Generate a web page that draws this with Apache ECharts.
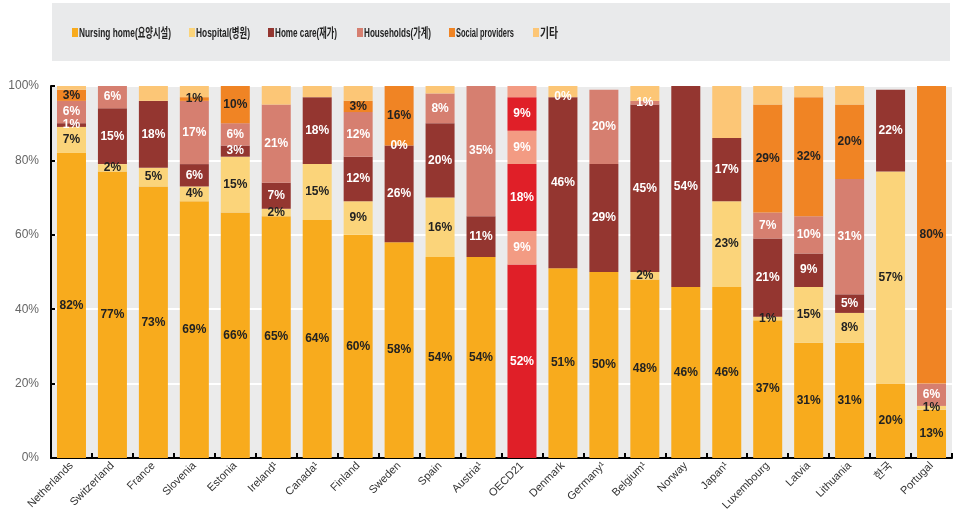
<!DOCTYPE html>
<html>
<head>
<meta charset="utf-8">
<script src="https://cdn.jsdelivr.net/npm/echarts@6/dist/echarts.min.js"></script>
<style>
  html, body { margin: 0; padding: 0; background: #fff; }
  #chart { width: 955px; height: 520px; }
</style>
</head>
<body>
<div id="chart"></div>
<script>
// Long-term care spending by provider, share of total (%)
const categories = ['Netherlands', 'Switzerland', 'France', 'Slovenia', 'Estonia', 'Ireland¹', 'Canada¹', 'Finland', 'Sweden', 'Spain', 'Austria¹', 'OECD21', 'Denmark', 'Germany¹', 'Belgium¹', 'Norway', 'Japan¹', 'Luxembourg', 'Latvia', 'Lithuania', '한국', 'Portugal'];

const nursingHome = [82, 77, 73, 69, 66, 65, 64, 60, 58, 54, 54, 52, 51, 50, 48, 46, 46, 37, 31, 31, 20, 13];
const hospital    = [7, 2, 5, 4, 15, 2, 15, 9, null, 16, null, 9, null, null, 2, null, 23, 1, 15, 8, 57, 1];
const homeCare    = [1, 15, 18, 6, 3, 7, 18, 12, 26, 20, 11, 18, 46, 29, 45, 54, 17, 21, 9, 5, 22, null];
const households  = [6, 6, null, 17, 6, 21, null, 12, 0, 8, 35, 9, 0, 20, 1, null, null, 7, 10, 31, null, 6];
const social      = [3, null, null, 1, 10, null, null, 3, 16, null, null, 9, null, null, null, null, null, 29, 32, 20, null, 80];
const other       = [1, 0, 4, 3, 0, 5, 3, 4, 0, 2, 0, 3, 3, 0, 4, 0, 14, 5, 3, 5, 0, 0];

const seriesNames = ['Nursing home(요양시설)', 'Hospital(병원)', 'Home care(재가)', 'Households(가계)', 'Social providers', '기타'];
const yTicks = [0, 20, 40, 60, 80, 100];

const colors = ['#f8ab1d', '#fbd47a', '#943630', '#d67f70', '#f08424', '#fcc676'];
const labelColors = ['#222', '#222', '#fff', '#fff', '#222', '#222'];
const oecdColors = ['#e01f28', '#f39b83', '#e01f28', '#f39b83', '#e01f28', '#f39b83'];
const OECD = categories.indexOf('OECD21');

const FONT = "'Liberation Sans', Arial, 'Noto Sans CJK KR', sans-serif";

function buildSeries(name, values, idx, labelled) {
  return {
    name: name,
    type: 'bar',
    stack: 'total',
    barWidth: 29,
    data: values.map((v, i) => {
      if (i === OECD) {
        return { value: v, itemStyle: { color: oecdColors[idx] }, label: { color: '#fff' } };
      }
      return v;
    }),
    itemStyle: { color: colors[idx] },
    label: {
      show: labelled,
      position: 'inside',
      formatter: p => (p.value === null || p.value === undefined || p.value === '-') ? '' : p.value + '%',
      color: labelColors[idx],
      fontFamily: FONT,
      fontWeight: 'bold',
      fontSize: 12
    },
    emphasis: { disabled: true }
  };
}

const values = [nursingHome, hospital, homeCare, households, social, other];
const series = values.map((v, i) => buildSeries(seriesNames[i], v, i, i < 5));

// Legend strip: swatch + condensed bold label for each series
const legendX = [72, 189, 268, 357, 449, 533];
const legendW = [92, 54, 62, 67, 58, 18];
const legendFont = "bold 13px 'Liberation Sans', Arial, 'Noto Sans CJK KR', sans-serif";
const measureCtx = document.createElement('canvas').getContext('2d');
measureCtx.font = legendFont;
const legendGraphics = [];
seriesNames.forEach((n, i) => {
  legendGraphics.push({
    type: 'rect',
    x: legendX[i], y: 28,
    shape: { width: 6, height: 9 },
    style: { fill: colors[i] }
  });
  const w = measureCtx.measureText(n).width;
  legendGraphics.push({
    type: 'text',
    x: legendX[i] + 7, y: 33,
    scaleX: legendW[i] / w,
    style: {
      text: n,
      font: legendFont,
      fill: '#222',
      verticalAlign: 'middle',
      align: 'left'
    }
  });
});

const chart = echarts.init(document.getElementById('chart'), null, { renderer: 'canvas' });
chart.setOption({
  animation: false,
  graphic: [{
    type: 'rect',
    left: 52, top: 3,
    shape: { width: 898, height: 58 },
    style: { fill: '#e9eaeb' },
    z: -10
  }].concat(legendGraphics),
  grid: {
    left: 51, right: 3, top: 86, bottom: 62,
    show: true,
    backgroundColor: '#ebebeb',
    borderWidth: 0
  },
  xAxis: {
    type: 'category',
    data: categories,
    axisLine: { lineStyle: { color: '#000', width: 2 } },
    axisTick: { show: true, inside: true, length: 5, lineStyle: { color: '#000', width: 2 } },
    axisLabel: {
      rotate: 45,
      interval: 0,
      margin: 6,
      fontFamily: FONT,
      fontSize: 11,
      color: '#333'
    }
  },
  yAxis: {
    type: 'value',
    min: 0,
    max: 100,
    interval: 20,
    axisLine: { show: true, lineStyle: { color: '#000', width: 2 } },
    axisTick: { show: true, inside: true, length: 4, lineStyle: { color: '#000', width: 2 } },
    axisLabel: {
      formatter: v => (yTicks.includes(v) ? v + '%' : ''),
      fontFamily: FONT,
      fontSize: 12,
      color: '#666',
      margin: 12
    },
    splitLine: { show: true, lineStyle: { color: '#ffffff', width: 2 } }
  },
  series: series
});
</script>
</body>
</html>
